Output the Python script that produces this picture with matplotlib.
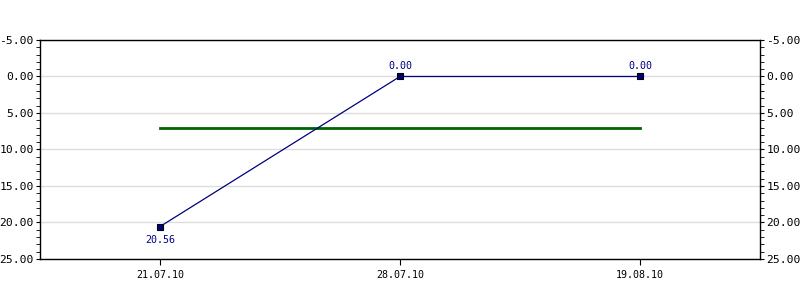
import matplotlib.pyplot as plt
from matplotlib.ticker import MultipleLocator, FormatStrFormatter

# data
dates = ['21.07.10', '28.07.10', '19.08.10']
values = [20.56, 0.00, 0.00]
avg_line = [7.1, 7.1, 7.1]

plt.rcParams['font.family'] = 'DejaVu Sans Mono'
plt.rcParams['font.size'] = 7.2

fig = plt.figure(figsize=(8, 3), dpi=100)
ax = fig.add_axes([0.05, 0.1367, 0.9, 0.73])

x = list(range(len(dates)))
ax.plot(x, avg_line, color='#006400', lw=2, zorder=2)
ax.plot(x, values, color='#000080', lw=0.9, marker='s', ms=4,
        mfc='#000080', mec='black', mew=0.8, zorder=3)

for xi, v in zip(x, values):
    if v > 0:
        ax.annotate(f'{v:.2f}', (xi, v), xytext=(0, -6), textcoords='offset points',
                    ha='center', va='top', color='#000080')
    else:
        ax.annotate(f'{v:.2f}', (xi, v), xytext=(0, 4), textcoords='offset points',
                    ha='center', va='bottom', color='#000080')

ax.set_xlim(-0.5, 2.5)
ax.set_ylim(25, -5)
ax.set_xticks(x)
ax.set_xticklabels(dates)
ax.yaxis.set_major_locator(MultipleLocator(5))
ax.yaxis.set_minor_locator(MultipleLocator(1))
ax.yaxis.set_major_formatter(FormatStrFormatter('%.2f'))
ax.grid(axis='y', color='#dddddd', lw=1)
ax.set_axisbelow(True)

ax.tick_params(axis='y', which='both', direction='out', left=True, right=True,
               labelleft=True, labelright=True, color='black', length=3, pad=1.5,
               labelsize=8.2)
ax.tick_params(axis='x', length=4, direction='out', pad=4)
for s in ax.spines.values():
    s.set_linewidth(1)
    s.set_color('black')

fig.savefig('out.png')
